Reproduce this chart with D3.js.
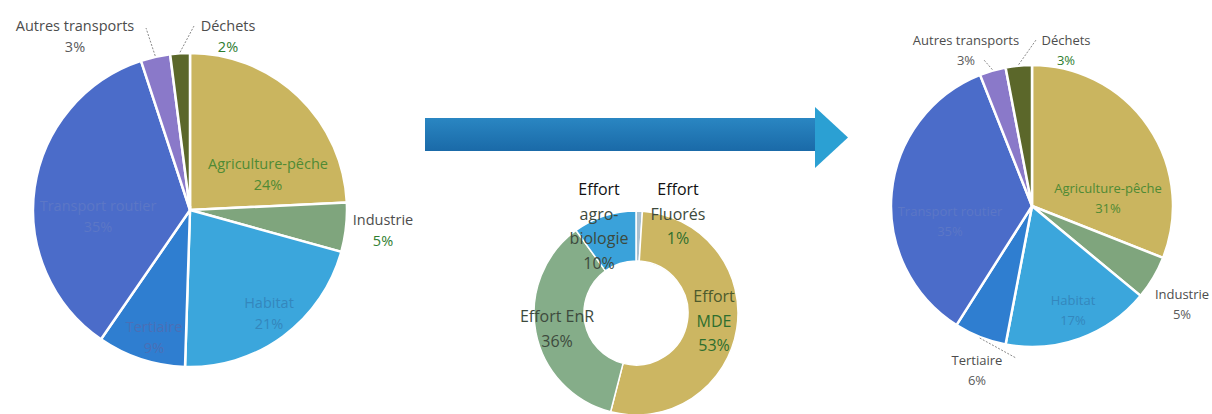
<!DOCTYPE html>
<html>
<head>
<meta charset="utf-8">
<script src="https://cdnjs.cloudflare.com/ajax/libs/d3/7.8.5/d3.min.js"></script>
<style>
  html, body { margin: 0; padding: 0; background: #fff; }
  svg { display: block; }
  text { font-family: "Open Sans", "DejaVu Sans", sans-serif; }
</style>
</head>
<body>
<svg id="chart"></svg>
<script>
// Secteurs (ordre horaire depuis midi)
const sectors = ['Agriculture-pêche', 'Industrie', 'Habitat', 'Tertiaire', 'Transport routier', 'Autres transports', 'Déchets'];
const beforeValues = [24, 5, 21, 9, 35, 3, 2];
const afterValues = [31, 5, 17, 6, 35, 3, 3];

// Efforts (anneau central)
const efforts = ['Effort Fluorés', 'Effort MDE', 'Effort EnR', 'Effort agro-biologie'];
const effortValues = [1, 53, 36, 10];

const sectorColors = {
  'Agriculture-pêche': '#cab55f',
  'Industrie': '#7fa57d',
  'Habitat': '#3ba6dc',
  'Tertiaire': '#2f7ed0',
  'Transport routier': '#4b6cc9',
  'Autres transports': '#8a79c9',
  'Déchets': '#5b672a'
};
const effortColors = {
  'Effort Fluorés': '#a9c0cf',
  'Effort MDE': '#ccb662',
  'Effort EnR': '#85ad89',
  'Effort agro-biologie': '#3aa2da'
};

// Label placement, relative to the pie centre
const beforeLabels = {
  'Agriculture-pêche': { dx: 78, dy: -38, name: '#4f8a34', pct: '#4f8a34' },
  'Industrie': { dx: 193, dy: 18, name: '#4d4d4d', pct: '#2e7d2e' },
  'Habitat': { dx: 79, dy: 101, name: '#3487bd', pct: '#3487bd' },
  'Tertiaire': { dx: -36, dy: 125, name: '#4a6fb6', pct: '#4a6fb6' },
  'Transport routier': { dx: -92, dy: 4, name: '#5c77c6', pct: '#5c77c6' },
  'Autres transports': { dx: -115, dy: -176, name: '#4d4d4d', pct: '#5a5a5a', lead: [-44, -182] },
  'Déchets': { dx: 38, dy: -176, name: '#4d4d4d', pct: '#2e7d2e', lead: [4, -184] }
};
const afterLabels = {
  'Agriculture-pêche': { dx: 76, dy: -10, name: '#4f8a34', pct: '#4f8a34' },
  'Industrie': { dx: 150, dy: 96, name: '#4d4d4d', pct: '#5a5a5a' },
  'Habitat': { dx: 41, dy: 102, name: '#3487bd', pct: '#3487bd' },
  'Tertiaire': { dx: -55, dy: 162, name: '#4d4d4d', pct: '#5a5a5a', lead: [-16, 152] },
  'Transport routier': { dx: -82, dy: 13, name: '#5c77c6', pct: '#5c77c6' },
  'Autres transports': { dx: -66, dy: -158, name: '#4d4d4d', pct: '#5a5a5a', lead: [-48, -146] },
  'Déchets': { dx: 34, dy: -158, name: '#4d4d4d', pct: '#2e7d2e', lead: [4, -166] }
};

const W = 1212, H = 414;
const svg = d3.select('#chart').attr('width', W).attr('height', H);

function drawPie(cx, cy, r, values, labels, fs, gap) {
  const data = sectors.map((s, i) => ({ name: s, value: values[i] }));
  const pie = d3.pie().sort(null).value(d => d.value);
  const arc = d3.arc().innerRadius(0).outerRadius(r);
  const g = svg.append('g').attr('transform', `translate(${cx},${cy})`);
  const arcs = pie(data);

  g.selectAll('path.slice')
    .data(arcs)
    .enter()
    .append('path')
    .attr('class', 'slice')
    .attr('d', arc)
    .attr('fill', d => sectorColors[d.data.name])
    .attr('stroke', '#fff')
    .attr('stroke-width', 2.5);

  // leader lines for outside labels
  for (const a of arcs) {
    const L = labels[a.data.name];
    if (!L.lead) continue;
    const mid = (a.startAngle + a.endAngle) / 2;
    const px = Math.sin(mid) * (r + 1), py = -Math.cos(mid) * (r + 1);
    g.append('path')
      .attr('d', `M${px},${py}L${L.lead[0]},${L.lead[1]}`)
      .attr('fill', 'none')
      .attr('stroke', '#8a8a8a')
      .attr('stroke-width', 1)
      .attr('stroke-dasharray', '2,1.5');
  }

  const lab = g.selectAll('g.lab')
    .data(arcs)
    .enter()
    .append('g')
    .attr('class', 'lab')
    .attr('transform', d => `translate(${labels[d.data.name].dx},${labels[d.data.name].dy})`);

  lab.append('text')
    .attr('text-anchor', 'middle')
    .attr('y', -3)
    .attr('font-size', fs)
    .attr('fill', d => labels[d.data.name].name)
    .text(d => d.data.name);

  lab.append('text')
    .attr('text-anchor', 'middle')
    .attr('y', -3 + gap)
    .attr('font-size', fs)
    .attr('fill', d => labels[d.data.name].pct)
    .text(d => d.data.value + '%');
}

drawPie(190, 210, 157, beforeValues, beforeLabels, 14.5, 21);
drawPie(1032, 206, 141, afterValues, afterLabels, 13, 20);

// Arrow between the two pies
const defs = svg.append('defs');
const grad = defs.append('linearGradient').attr('id', 'arrowGrad')
  .attr('x1', 0).attr('y1', 0).attr('x2', 0).attr('y2', 1);
grad.append('stop').attr('offset', '0%').attr('stop-color', '#2a86c2');
grad.append('stop').attr('offset', '100%').attr('stop-color', '#1a6aa8');

svg.append('rect')
  .attr('x', 425).attr('y', 118)
  .attr('width', 390).attr('height', 33)
  .attr('fill', 'url(#arrowGrad)');
svg.append('path')
  .attr('d', 'M815,107L848,137.5L815,168Z')
  .attr('fill', '#2ba0d3');

// Donut of efforts
const dcx = 636, dcy = 313;
const dpie = d3.pie().sort(null).value(d => d.value);
const darc = d3.arc().innerRadius(52).outerRadius(102);
const dg = svg.append('g').attr('transform', `translate(${dcx},${dcy})`);
const darcs = dpie(efforts.map((e, i) => ({ name: e, value: effortValues[i] })));
dg.selectAll('path')
  .data(darcs)
  .enter()
  .append('path')
  .attr('d', darc)
  .attr('fill', d => effortColors[d.data.name])
  .attr('stroke', '#fff')
  .attr('stroke-width', 1.5);

const effortLabels = {
  'Effort Fluorés': { dx: 42, dy: -118, lines: [['Effort', '#111'], ['Fluorés', '#3d4a3d'], ['%', '#2e6e2e']] },
  'Effort MDE': { dx: 78, dy: -11, lines: [['Effort', '#4d5a2c'], ['MDE', '#2e6e2e'], ['%', '#2e6e2e']] },
  'Effort EnR': { dx: -79, dy: 9, lines: [['Effort EnR', '#3d4a3d'], ['%', '#3d4a3d']] },
  'Effort agro-biologie': { dx: -37, dy: -118, lines: [['Effort', '#111'], ['agro-', '#3d4a3d'], ['biologie', '#3d4a3d'], ['%', '#3d4a3d']] }
};
for (const a of darcs) {
  const L = effortLabels[a.data.name];
  const t = dg.append('text')
    .attr('text-anchor', 'middle')
    .attr('font-size', 16)
    .attr('transform', `translate(${L.dx},${L.dy})`);
  L.lines.forEach((ln, i) => {
    t.append('tspan')
      .attr('x', 0)
      .attr('y', i * 24.5)
      .attr('fill', ln[1])
      .text(ln[0] === '%' ? a.data.value + '%' : ln[0]);
  });
}
</script>
</body>
</html>
